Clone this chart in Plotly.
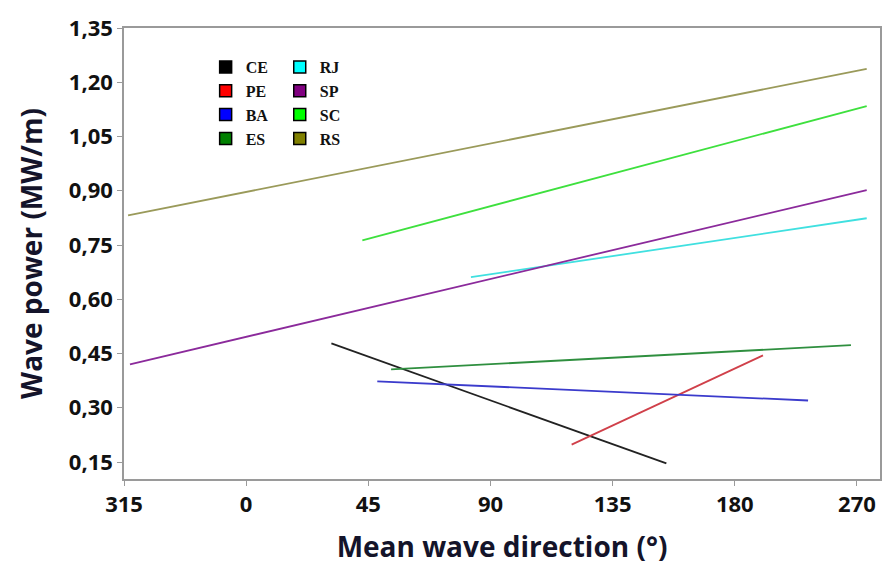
import plotly.graph_objects as go

# Data (x: mean wave direction on a linear scale where the ticks are labelled 315,0,...,270)
regions = ["CE", "PE", "BA", "ES", "RJ", "SP", "SC", "RS"]
x_start = [31.4, 119.9, 48.3, 53.4, 82.8, -42.8, 42.8, -43.5]
x_end = [154.8, 190.4, 207.0, 222.8, 228.6, 228.6, 228.6, 228.6]
y_start = [0.478, 0.198, 0.373, 0.406, 0.661, 0.420, 0.763, 0.832]
y_end = [0.146, 0.445, 0.320, 0.473, 0.824, 0.902, 1.134, 1.237]

x_tickvals = [-45, 0, 45, 90, 135, 180, 225]
x_ticktext = ["315", "0", "45", "90", "135", "180", "270"]
y_tickvals = [0.15, 0.30, 0.45, 0.60, 0.75, 0.90, 1.05, 1.20, 1.35]
y_ticktext = ["0,15", "0,30", "0,45", "0,60", "0,75", "0,90", "1,05", "1,20", "1,35"]

line_colors = ["#222222", "#d0404a", "#3b3bcc", "#2f8f3f", "#40e0e0", "#8b2a9b", "#3ee03e", "#9a9a5a"]
legend_colors = ["#000000", "#ff0000", "#0000ff", "#008000", "#00ffff", "#800080", "#00ff00", "#808000"]

fig = go.Figure()
for i, r in enumerate(regions):
    fig.add_trace(go.Scatter(
        x=[x_start[i], x_end[i]], y=[y_start[i], y_end[i]],
        mode="lines", line=dict(color=line_colors[i], width=1.8),
        showlegend=False, hoverinfo="skip"))

for i, r in enumerate(regions):
    fig.add_trace(go.Scatter(
        x=[None], y=[None], mode="markers", name=r,
        marker=dict(symbol="square", size=12, color=legend_colors[i],
                    line=dict(color="black", width=1.5)),
        legend="legend" if i < 4 else "legend2"))

tick_font = dict(family="Open Sans", size=22, color="#111111", weight="bold")
title_font = dict(family="Open Sans", size=28, color="#14142a", weight="bold")
leg_font = dict(family="Liberation Serif", size=16, color="#111111", weight="bold")

fig.update_layout(
    width=885, height=565,
    margin=dict(l=124, r=3, t=28, b=86),
    paper_bgcolor="white", plot_bgcolor="white",
    xaxis=dict(range=[-45, 233.5], tickvals=x_tickvals, ticktext=x_ticktext,
               tickfont=tick_font, showgrid=False, zeroline=False,
               showline=True, linecolor="#9a9a9a", linewidth=1.5, mirror=True,
               ticks="outside", ticklen=5, tickcolor="#9a9a9a",
               title=dict(text="Mean wave direction (°)", font=title_font, standoff=22)),
    yaxis=dict(range=[0.103, 1.35], tickvals=y_tickvals, ticktext=y_ticktext,
               tickfont=tick_font, showgrid=False, zeroline=False,
               showline=True, linecolor="#9a9a9a", linewidth=1.5, mirror=True,
               ticks="outside", ticklen=5, tickcolor="#9a9a9a",
               title=dict(text="Wave power (MW/m)", font=title_font, standoff=18)),
    legend=dict(x=0.108, y=0.951, xanchor="left", yanchor="top",
                bgcolor="rgba(0,0,0,0)", font=leg_font, itemwidth=30,
                tracegroupgap=0),
    legend2=dict(x=0.206, y=0.951, xanchor="left", yanchor="top",
                 bgcolor="rgba(0,0,0,0)", font=leg_font, itemwidth=30,
                 tracegroupgap=0),
)

fig.write_html("out.html")
